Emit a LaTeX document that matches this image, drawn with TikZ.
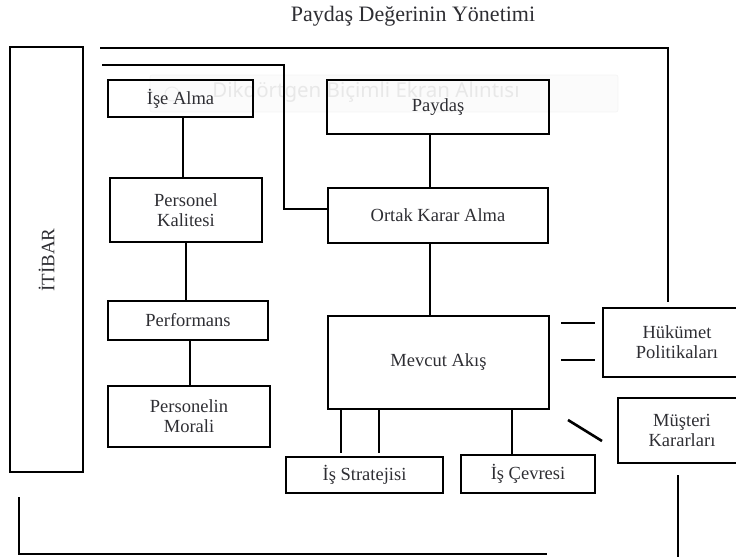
\documentclass[tikz,border=0pt]{standalone}
\usepackage{fontspec}
\setmainfont{Liberation Serif}
\newfontfamily\wmfont{Noto Sans}
\definecolor{txt}{HTML}{2E2E33}
\begin{document}
\begin{tikzpicture}[x=1pt,y=-1pt,
  box/.style={draw=black,line width=2.6pt,rectangle,inner sep=0pt,align=center,
    text=txt,font=\fontsize{18.5}{20}\selectfont},
  conn/.style={draw=black,line width=2.6pt},
  thin/.style={draw=black,line width=1.9pt}]
\useasboundingbox (0,0) rectangle (736,557);
\clip (0,0) rectangle (736,557);
% watermark artefact
\draw[black!4,fill=black!1.5,rounded corners=2pt,line width=0.8pt] (150,75) rectangle (618,112);
\draw[black!7,line width=1pt] (172,94) circle (7);
\node[text=black!9,font=\wmfont\fontsize{20.5}{22}\selectfont] (wm) at (366,92) {Dikdörtgen Biçimli Ekran Alıntısı};
% title
\node[text=txt,font=\fontsize{22}{24}\selectfont] (title) at (413,16) {Paydaş Değerinin Yönetimi};
% boxes
\node[box,minimum width=73,minimum height=425] (itibar) at (46.5,259.5) {};
\node[text=txt,font=\fontsize{19}{21}\selectfont,rotate=90] (itibartxt) at (46.5,260) {İTİBAR};
\node[box,minimum width=145,minimum height=37] (ise) at (180.5,98.5) {İşe Alma};
\node[box,minimum width=152,minimum height=64] (pk) at (186,210) {Personel\\Kalitesi};
\node[box,minimum width=160,minimum height=39] (perf) at (188,320.5) {Performans};
\node[box,minimum width=162,minimum height=61] (moral) at (189,416.5) {Personelin\\Morali};
\node[box,minimum width=222,minimum height=54] (paydas) at (438,107) {\raisebox{-3pt}{Paydaş}};
\node[box,minimum width=220,minimum height=55] (ortak) at (438,215.5) {Ortak Karar Alma};
\node[box,minimum width=221,minimum height=93] (mevcut) at (438.5,362.5) {Mevcut Akış};
\node[box,minimum width=148,minimum height=69] (huk) at (677,342.5) {Hükümet\\Politikaları};
\node[box,minimum width=128,minimum height=65] (mus) at (682,430.5) {Müşteri\\Kararları};
\node[box,minimum width=157,minimum height=36] (strat) at (364.5,475) {İş Stratejisi};
\node[box,minimum width=134,minimum height=38] (cevre) at (528,474) {İş Çevresi};
% free-end coordinates
\coordinate (t1) at (100,48);
\coordinate (t1c) at (668,48);
\coordinate (t1e) at (668,302);
\coordinate (t2) at (102,65);
\coordinate (t2c) at (284,65);
\coordinate (t2d) at (284,209);
\coordinate (h1a) at (561,323);
\coordinate (h1b) at (595,323);
\coordinate (h2a) at (561,360);
\coordinate (h2b) at (595,360);
\coordinate (da) at (568,420);
\coordinate (db) at (602,441);
\coordinate (s1) at (341,453);
\coordinate (s2) at (379,453);
\coordinate (c1) at (512,455);
\coordinate (b1) at (19,497);
\coordinate (b2) at (19,554);
\coordinate (b3) at (547,554);
\coordinate (r1) at (678,475);
\coordinate (r2) at (678,557);
% connectors
\draw[conn] (ise.south -| 183,0) -- (pk.north -| 183,0);
\draw[conn] (pk.south) -- (pk.south |- perf.north);
\draw[conn] (perf.south -| 190,0) -- (moral.north -| 190,0);
\draw[conn] (paydas.south -| 430,0) -- (ortak.north -| 430,0);
\draw[conn] (ortak.south -| 430,0) -- (mevcut.north -| 430,0);
\draw[conn] (t1) -- (t1c) -- (t1e);
\draw[conn] (t2) -- (t2c) -- (t2d) -- (t2d -| ortak.west);
\draw[conn] (h1a) -- (h1b);
\draw[conn] (h2a) -- (h2b);
\draw[conn] (da) -- (db);
\draw[conn] (s1 |- mevcut.south) -- (s1);
\draw[conn] (s2 |- mevcut.south) -- (s2);
\draw[conn] (c1 |- mevcut.south) -- (c1 |- cevre.north);
\draw[thin] (b1) -- (b2) -- (b3);
\draw[thin] (r1) -- (r2);
\end{tikzpicture}
\end{document}
